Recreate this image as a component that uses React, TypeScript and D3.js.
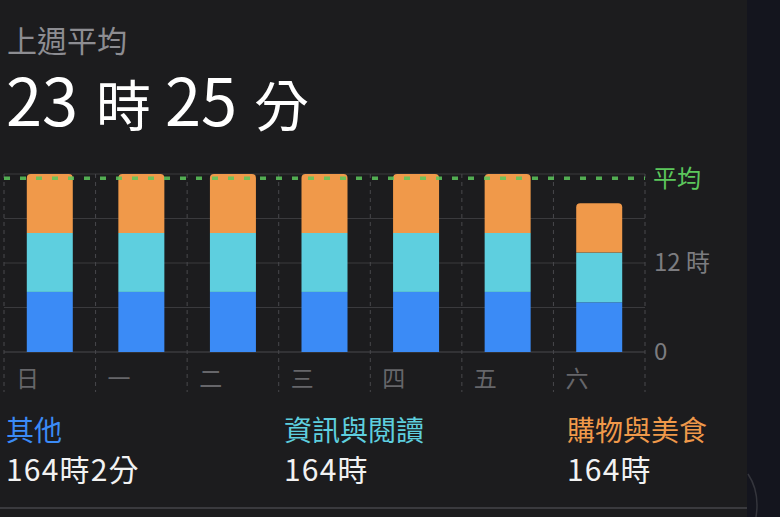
import * as d3 from "d3";

// values (hours per day)
const days = ["日", "一", "二", "三", "四", "五", "六"];
const other = [8.1, 8.1, 8.1, 8.1, 8.1, 8.1, 6.7];
const news = [7.95, 7.95, 7.95, 7.95, 7.95, 7.95, 6.7];
const shopping = [7.95, 7.95, 7.95, 7.95, 7.95, 7.95, 6.65];
const seriesNames = ["其他", "資訊與閱讀", "購物與美食"];
const seriesTotals = ["164時2分", "164時", "164時"];
const avgHours = 23 + 25 / 60;
const gridTicks = [0, 6, 12, 18, 24];
const labelTicks = [0, 12];

const colors = ["#3b8bf6", "#5ecfdf", "#f0994a"];
const FONT = "'Noto Sans CJK TC', 'Noto Sans', sans-serif";

const W = 780;
const H = 517;

export default function App() {
  const table = days.map((d, i) => ({ day: d, other: other[i], news: news[i], shopping: shopping[i] }));
  const stack = d3.stack<any>().keys(["other", "news", "shopping"]);
  const layers = stack(table);

  const x = d3.scaleBand<string>().domain(days).range([4, 645]);
  const y = d3.scaleLinear().domain([0, 24]).range([352, 174]);
  const barW = 46;
  const r = 4;

  // top corners rounded only
  const roundTop = (x0: number, y0: number, w: number, h: number) => {
    const p = d3.path();
    p.moveTo(x0, y0 + h);
    p.lineTo(x0, y0 + r);
    p.quadraticCurveTo(x0, y0, x0 + r, y0);
    p.lineTo(x0 + w - r, y0);
    p.quadraticCurveTo(x0 + w, y0, x0 + w, y0 + r);
    p.lineTo(x0 + w, y0 + h);
    p.closePath();
    return p.toString();
  };

  const legendX = [6, 284, 567];
  const colEdges = [...days.map((d) => x(d)!), 645];

  return (
    <svg width={W} height={H} style={{ position: "fixed", left: 0, top: 0 }} fontFamily={FONT}>
      <rect x={0} y={0} width={W} height={H} fill="#14151e" />
      <rect x={-30} y={-30} width={777} height={H + 60} rx={30} fill="#1c1c1e" />
      <path d="M748 474 Q760 492 756 517" fill="none" stroke="#34353c" strokeWidth={1.5} />

      <text x={7} y={52} fontSize={30} fill="#8d8d92">上週平均</text>
      <text y={126} fill="#ffffff">
        <tspan x={6} fontSize={65}>23</tspan>
        <tspan x={96} fontSize={55}>時</tspan>
        <tspan x={165} fontSize={65}>25</tspan>
        <tspan x={254} fontSize={55}>分</tspan>
      </text>

      {gridTicks.map((t) => (
        <line key={t} x1={4} x2={645} y1={y(t)} y2={y(t)} stroke={t === 0 ? "#48484c" : "#3a3a3d"} strokeWidth={1} />
      ))}
      {colEdges.map((cx, i) => (
        <line key={i} x1={cx} x2={cx} y1={y(24)} y2={392} stroke="#48484c" strokeWidth={1} strokeDasharray="4 4" />
      ))}

      {layers.map((layer, li) => (
        <g key={li} fill={colors[li]}>
          {layer.map((seg, i) => {
            const x0 = x(days[i])! + (x.bandwidth() - barW) / 2;
            const y0 = y(seg[1]);
            const h = y(seg[0]) - y(seg[1]);
            return li === layers.length - 1 ? (
              <path key={i} d={roundTop(x0, y0, barW, h)} />
            ) : (
              <rect key={i} x={x0} y={y0} width={barW} height={h} />
            );
          })}
        </g>
      ))}

      <line x1={4} x2={645} y1={y(avgHours)} y2={y(avgHours)} stroke="#5cc75c" strokeOpacity={0.85} strokeWidth={3.5} strokeDasharray="6 10" />
      <text x={653} y={y(avgHours)} dy="0.35em" fontSize={24} fill="#5cc75c">平均</text>
      {labelTicks.map((t) => (
        <text key={t} x={654} y={y(t)} dy="0.35em" fontSize={24} fill="#7c7c80">
          {t === 0 ? "0" : `${t} 時`}
        </text>
      ))}

      {days.map((d) => (
        <text key={d} x={x(d)! + 12} y={387} fontSize={23} fill="#66666a">{d}</text>
      ))}

      {seriesNames.map((n, i) => (
        <g key={n}>
          <text x={legendX[i]} y={441} fontSize={28} fill={colors[i]}>{n}</text>
          <text x={legendX[i]} y={481} fontSize={30} letterSpacing={1.2} fill="#f2f2f2">{seriesTotals[i]}</text>
        </g>
      ))}

      <line x1={0} x2={747} y1={508} y2={508} stroke="#3a3a3e" strokeWidth={2} />
    </svg>
  );
}
